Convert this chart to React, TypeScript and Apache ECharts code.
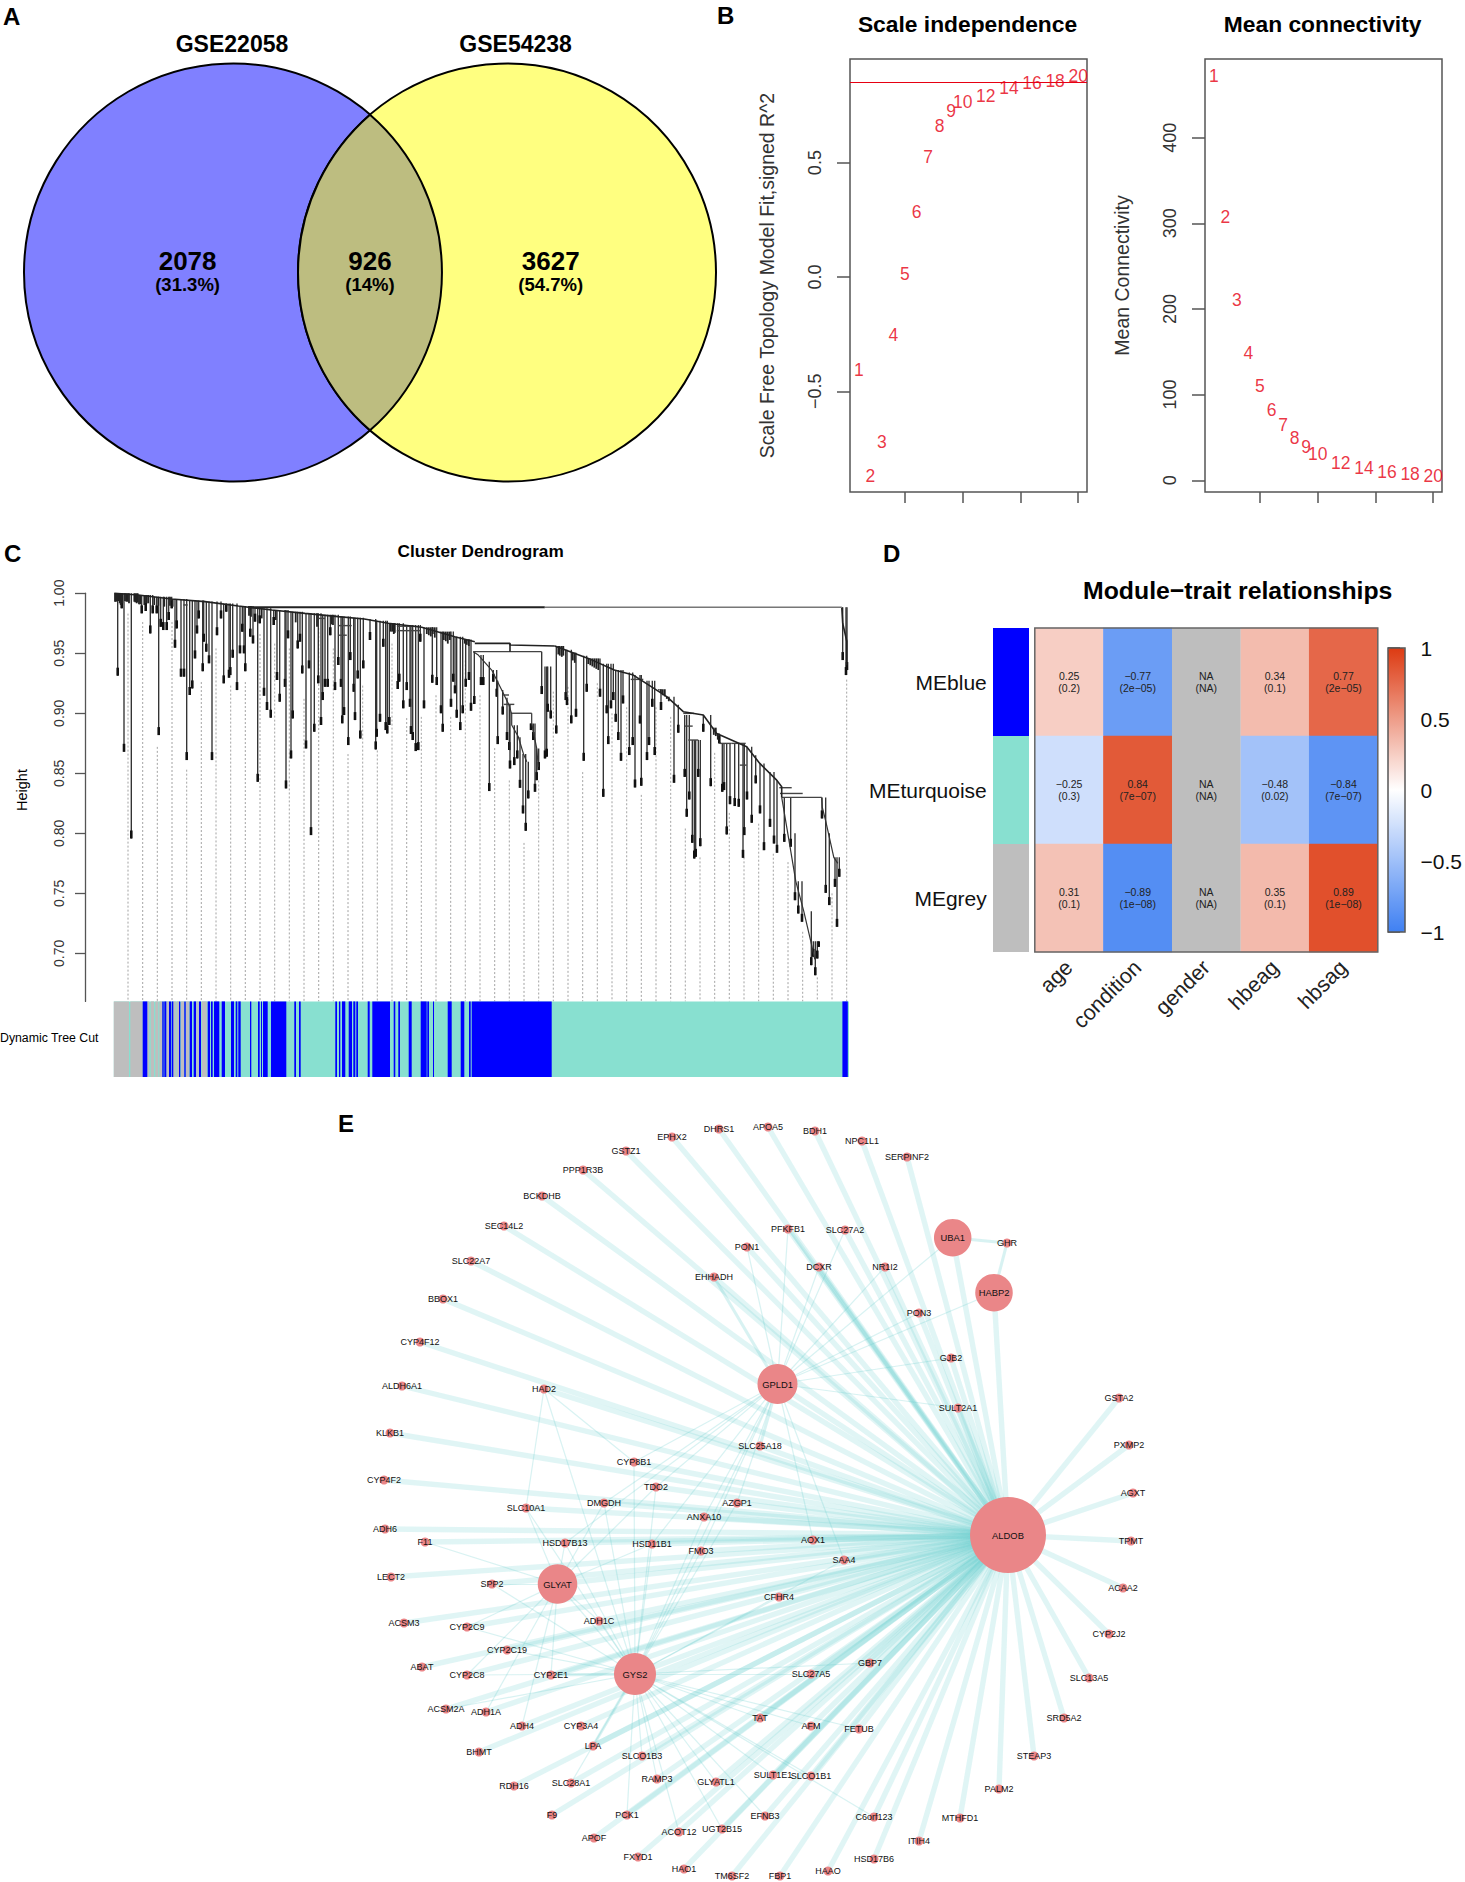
import React, { useEffect, useRef } from "react";
import * as echarts from "echarts";

const FONT = '"Liberation Sans", Arial, sans-serif';

/* ---------- A: Venn ---------- */
const vennSets = ["GSE22058", "GSE54238"];
const vennCounts = ["2078", "926", "3627"];
const vennPercents = ["(31.3%)", "(14%)", "(54.7%)"];

/* ---------- B: soft threshold ---------- */
const powers = [1, 2, 3, 4, 5, 6, 7, 8, 9, 10, 12, 14, 16, 18, 20];
const scaleFitR2 = [-0.407, -0.87, -0.721, -0.254, 0.013, 0.284, 0.525, 0.66, 0.726, 0.764, 0.79, 0.826, 0.848, 0.855, 0.88];
const meanConnectivity = [472, 307, 211, 149, 110, 82, 64, 49, 39, 31, 20.5, 14, 10, 7.5, 5.4];
const fitCutoff = 0.85;

/* ---------- C: dendrogram (x = leaf position, h = height) ---------- */
const dendroLeftChain = [[0.5, 0.9999], [24.5, 0.9985], [57.9, 0.9952], [91.2, 0.993], [124.5, 0.9893], [157.9, 0.986], [191.2, 0.9832], [224.5, 0.9805], [250.5, 0.9785], [274.5, 0.975], [307.9, 0.9716], [341, 0.9638], [361, 0.9596]];
const dendroMidChain = [[361, 0.9582], [396.2, 0.9582], [396.2, 0.9568], [441, 0.956]];
const dendroRightChain = [[441, 0.956], [474.5, 0.9457], [500.5, 0.936], [519.5, 0.9318], [552.9, 0.9138], [569.5, 0.9013], [589.5, 0.8985], [602.9, 0.8832], [632.9, 0.8721], [646, 0.8582], [662.9, 0.8443], [667.9, 0.8388], [667.9, 0.8299]];
const dendroSubChain = [[359.5, 0.9513], [364.5, 0.9485], [377.9, 0.936], [387.9, 0.9193], [395.2, 0.9068], [397.9, 0.8993], [397.9, 0.8902], [404.5, 0.8804], [409.5, 0.8666], [412.9, 0.8596]];
const dendroSubRight = [[417.9, 0.9], [417.9, 0.8915], [422.9, 0.8707], [424.5, 0.8554]];
const dendroTailChain = [[667.9, 0.8299], [675, 0.795], [682, 0.76], [690, 0.735], [697, 0.71], [701, 0.695]];
const dendroTailRight = [[707.9, 0.8299], [708.5, 0.8215], [712, 0.81], [716, 0.795], [720, 0.78], [724, 0.775]];
const dendroCapChain = [[728, 0.9882], [728.9, 0.975], [733, 0.96], [733, 0.94]];
const dendroStem = [[396.2, 0.9582], [396.2, 0.9513]];
const dendroRootDark = [[134.5, 0.9882], [431, 0.9882]];
const dendroRootLight = [[431, 0.9882], [728, 0.9882]];
const dendroForks = [
  [389.5, 395.2, 0.9152], [390, 400.5, 0.9074], [397.2, 417.9, 0.9], [359.5, 427.9, 0.9513], [283, 301, 0.9725], [283, 307, 0.9688],
  [516.9, 529.5, 0.9282], [569.5, 580.2, 0.8999], [574.5, 584.5, 0.8777], [606.2, 617.9, 0.8749], [617.9, 631.9, 0.8749], [626, 632.9, 0.8568],
  [666.2, 688.9, 0.8332], [665.5, 677.9, 0.838], [667.9, 707.9, 0.8299], [571.2, 578.9, 0.8893],
  [224.5, 237.9, 0.973], [224.5, 233, 0.965], [69.5, 73.9, 0.9902], [204.5, 211.2, 0.979],
];
const dendroHang = [
  [0, 0.9999], [24, 0.9985], [40, 0.997], [58, 0.9952], [75, 0.994], [91, 0.993], [108, 0.9915], [125, 0.9893], [141, 0.9875], [158, 0.986], [175, 0.9845], [191, 0.9832], [208, 0.982], [225, 0.9805], [238, 0.9795], [250, 0.9785], [262, 0.977], [274, 0.975], [291, 0.9735], [308, 0.9716], [325, 0.968], [341, 0.9638], [351, 0.9615],
  [358, 0.9513], [364.5, 0.9485], [371, 0.943], [378, 0.936], [383, 0.927], [388, 0.9193], [392, 0.913], [395.2, 0.9068], [398, 0.89], [404, 0.88], [409, 0.866], [413, 0.8596], [417, 0.8915], [422, 0.8707], [425, 0.8554], [427, 0.9513], [430, 0.939],
  [440, 0.956], [450, 0.953], [458, 0.9505], [466, 0.948], [474.5, 0.9457], [487, 0.9412], [500, 0.936], [510, 0.934], [519.5, 0.9318], [530, 0.927], [542, 0.92], [553, 0.9138], [562, 0.907], [569.5, 0.8985], [578, 0.8777], [589, 0.8985], [597, 0.888], [603, 0.8832], [606, 0.875], [632, 0.8721], [639, 0.865], [646, 0.8582], [654, 0.851], [663, 0.8443], [668, 0.8299], [677, 0.8], [684, 0.76], [692, 0.735], [698, 0.71], [706, 0.8299], [712, 0.8], [720, 0.78], [727, 0.9882],
];
const dendroLeafX = [3.9, 7.9, 10.2, 17.5, 27.9, 31.9, 36.5, 38.9, 42.9, 44.9, 46.9, 49.5, 52.9, 54.9, 57.9, 61.2, 62.9, 67.2, 70.2, 72.9, 75.9, 78.5, 81.2, 83.2, 84.9, 88.9, 89.9, 92.5, 95.2, 98.2, 103.2, 107.2, 109.9, 112.5, 115.2, 116.5, 118.9, 123.2, 126.2, 128.5, 130.2, 131.5, 136.5, 139.2, 141.2, 143.9, 145.9, 150.2, 153.2, 156.9, 159.9, 163.2, 165.9, 171.2, 172.2, 174.2, 177.2, 178.9, 183.9, 186.2, 188.5, 192.2, 195.2, 197.2, 200.5, 204.5, 207.2, 208.9, 211.2, 213.9, 216.5, 221.2, 224.5, 227.2, 228.5, 230.2, 234.5, 236.5, 239.9, 241.2, 243.9, 246.5, 249.5,
  256.2, 261.9, 262.9, 266.2, 269.5, 271.9, 273.5, 275.5, 283.9, 285.5, 289.5, 292.9, 296.2, 297.2, 298.9, 301.9, 304.5, 306.5, 310.2, 318.5, 322.9, 327.2, 328.9, 337.2, 339.5, 341.2, 342.9, 346.5, 348.9, 351.9, 355.2, 357.2, 360.5, 367.2, 369.5, 375.5, 379.5, 382.9, 383.9, 388.9, 393.2, 395.5, 396.2, 400.5, 403.5, 406.2, 409.2, 411.9, 414.5, 417.2, 419.5, 421.2, 422.9, 424.9, 427.9, 431.2, 432.9, 433.9, 436.9, 442.5, 451.9, 453.2, 457.5, 462.2, 469.9, 472.9, 486.2, 489.5, 492.9, 494.5, 497.2, 499.5,
  501.9, 504.5, 507.2, 509.2, 515.5, 518.9, 521.2, 526.2, 527.5, 533.2, 535.2, 538.5, 540.9, 547.2, 560.2, 564.5, 570.9, 572.9, 575.5, 578.5, 580.5, 581.9, 584.5, 586.5, 589.5, 596.9, 605.5, 608.5, 610.2, 612.9, 616.2, 620.9, 624.9, 629.2, 630.5, 633.2, 637.9, 641.9, 646.2, 650.2, 656.2, 660.2, 663.2, 670.5, 676.9, 681.2, 684.5, 688.2, 697.5, 699.5, 701.5, 703.5, 704.9, 708.2, 711.9, 715.5, 721.2, 723.2, 725.5, 728.9, 732.2, 733.2];
const dendroLeafBottom = [0.9313, 0.9874, 0.8679, 0.7957, 0.9832, 0.9852, 0.9665, 0.9832, 0.9832, 0.8818, 0.972, 0.9693, 0.9693, 0.9777, 0.9874, 0.9546, 0.9707, 0.9305, 0.9305, 0.861, 0.9152, 0.9207, 0.9457, 0.9665, 0.979, 0.935, 0.9596, 0.9513, 0.9416, 0.861, 0.965, 0.979, 0.9249, 0.9846, 0.9296, 0.9318, 0.9463, 0.9193, 0.9499, 0.9679, 0.9499, 0.935, 0.9638, 0.9582, 0.9763, 0.8429, 0.9749, 0.9146, 0.9027, 0.8963, 0.9735, 0.9277, 0.9096, 0.922, 0.8374, 0.9624, 0.8624, 0.8957, 0.954, 0.9596, 0.9332, 0.8707, 0.9374, 0.7985, 0.8846, 0.9249, 0.8902, 0.911, 0.922, 0.922, 0.965, 0.9193, 0.9402, 0.922, 0.8916, 0.8985, 0.8735, 0.9443, 0.9179, 0.8943, 0.929, 0.879, 0.9374,
  0.961, 0.8699, 0.8804, 0.8929, 0.9554, 0.886, 0.8832, 0.8902, 0.9202, 0.9263, 0.9041, 0.9193, 0.9054, 0.8827, 0.8777, 0.8685, 0.8693, 0.9596, 0.9041, 0.9254, 0.9235, 0.9, 0.8846, 0.9054, 0.9263, 0.9166, 0.8963, 0.886, 0.9, 0.9221, 0.9277, 0.9021, 0.9077, 0.9235, 0.9235, 0.8352, 0.9263, 0.9138, 0.8743, 0.899, 0.8777, 0.8693, 0.854, 0.8568, 0.8624, 0.8379, 0.8166, 0.8021, 0.8291, 0.886, 0.8777, 0.8346, 0.8443, 0.8527, 0.916, 0.8624, 0.8638, 0.9013, 0.8957, 0.8832, 0.911, 0.9068, 0.8916, 0.8971, 0.8604, 0.9179, 0.9138, 0.8304, 0.9, 0.8743, 0.9041, 0.911,
  0.8929, 0.8777, 0.8604, 0.9082, 0.8652, 0.8735, 0.8382, 0.8915, 0.8396, 0.861, 0.8735, 0.9054, 0.8652, 0.9027, 0.8421, 0.8838, 0.847, 0.8138, 0.8282, 0.7921, 0.779, 0.7804, 0.847, 0.7893, 0.8846, 0.8393, 0.8749, 0.8346, 0.836, 0.7991, 0.8243, 0.8227, 0.8221, 0.7796, 0.7985, 0.8282, 0.8088, 0.8416, 0.8166, 0.786, 0.8054, 0.7915, 0.7838, 0.7929, 0.7888, 0.7443, 0.7332, 0.7263, 0.6902, 0.6971, 0.6818, 0.6957, 0.7054, 0.8124, 0.7504, 0.7402, 0.7554, 0.7221, 0.7638, 0.9443, 0.9318, 0.936];
const dendroTipX = [1.2, 2.2, 3.2, 4.5, 5.9, 6.9, 8.5, 11.2, 12.5, 13.9, 15.2, 20.5, 21.5, 22.9, 23.9, 25.2, 26.5, 30.5, 32.9, 34.5, 40.5, 44.5, 50.5, 56.2, 58.9, 135.2, 137.2, 147.9, 161.9, 181.9, 203.2, 217.9, 219.2, 277, 278.5, 280, 281, 313, 315, 317, 319, 321, 330, 332, 334, 336, 351, 353, 355, 444.5, 446, 448, 449.5, 459, 461, 474.5, 476.5, 478.5, 480.5, 482.5, 484.5, 543, 545, 547, 549, 551, 553, 555, 600, 602, 604, 606];
const dendroTipBottom = [0.9929, 0.9929, 0.9935, 0.9935, 0.9916, 0.9902, 0.9916, 0.9935, 0.9929, 0.9929, 0.9916, 0.9929, 0.9924, 0.9916, 0.9924, 0.9907, 0.9907, 0.9902, 0.9916, 0.9916, 0.9902, 0.9896, 0.9888, 0.9896, 0.9888, 0.9813, 0.9804, 0.979, 0.9777, 0.9757, 0.972, 0.974, 0.9735, 0.968, 0.968, 0.966, 0.967, 0.966, 0.965, 0.964, 0.966, 0.963, 0.961, 0.96, 0.958, 0.961, 0.958, 0.957, 0.956, 0.949, 0.948, 0.947, 0.948, 0.944, 0.942, 0.941, 0.94, 0.939, 0.938, 0.937, 0.936, 0.92, 0.919, 0.917, 0.915, 0.914, 0.912, 0.91, 0.882, 0.881, 0.878, 0.876];
const guideX = [14.2, 28.9, 43.5, 58.2, 72.9, 87.5, 102.2, 116.9, 131.5, 146.2, 160.9, 175.5, 190.2, 204.9, 219.5, 234.2, 248.9, 263.5, 278.2, 292.9, 307.5, 322.2, 336.9, 351.5, 366.2, 380.9, 395.5, 410.2, 424.9, 439.5, 454.2, 468.9, 483.5, 498.2, 512.9, 527.5, 542.2, 556.9, 571.5, 586.2, 600.9, 615.5, 630.2, 644.9, 659.5, 674.2, 688.9, 703.5, 718.2, 732.9];
const guideTop = [0.983, 0.976, 0.872, 0.976, 0.853, 0.926, 0.954, 0.923, 0.926, 0.966, 0.958, 0.954, 0.912, 0.971, 0.954, 0.866, 0.923, 0.869, 0.958, 0.896, 0.897, 0.915, 0.897, 0.944, 0.915, 0.871, 0.844, 0.792, 0.844, 0.918, 0.922, 0.851, 0.925, 0.9, 0.905, 0.832, 0.905, 0.897, 0.804, 0.78, 0.867, 0.817, 0.78, 0.808, 0.783, 0.776, 0.718, 0.68, 0.75, 0.928];
const dendroTicks = [0.7, 0.75, 0.8, 0.85, 0.9, 0.95, 1.0];
const treeSpan = [0, 735.2];
const turquoiseRuns = [[0, 735.2]];
const greyRuns = [[0, 15.2], [16.5, 28.9], [33.5, 35.5], [36.9, 40.2], [41.5, 44.5], [45.5, 48.5], [52.5, 55.2], [59.5, 62], [62.7, 65.2], [67.2, 70.2], [72.2, 75.4], [82.5, 85], [88, 93]];
const blueRuns = [[28.9, 33.5], [48.5, 49.9], [50.5, 52.5], [55.2, 57.2], [57.9, 59.5], [65.2, 66.5], [70.5, 71.9], [75.9, 78.2], [79.9, 82.2], [85.2, 87.2], [93.9, 96.2], [97.2, 98.9], [100.2, 105.5], [107.9, 111.2], [117.2, 120.2], [121.9, 123.5], [124.5, 126.9], [136.2, 137.5], [144.2, 145.9], [147.2, 148.2], [149.2, 153.9], [157.2, 172.5], [180.5, 182.2], [185.2, 186.9], [221.5, 223.2], [225.2, 226.5], [228.2, 231.5], [234.9, 238.2], [239.5, 241.5], [242.5, 244.2], [253.9, 255.9], [258.5, 276.2], [279.9, 281.5], [284.5, 286.2], [294.9, 297.9], [306.9, 312.9], [313.5, 315.2], [319.2, 320.2], [333.9, 337.9], [346.9, 350.5], [355.2, 356.9], [357.9, 437.9], [728.6, 734]];

/* ---------- D: module-trait heatmap ---------- */
const traits = ["age", "condition", "gender", "hbeag", "hbsag"];
const modules = ["MEblue", "MEturquoise", "MEgrey"];
const moduleColors = ["#0000ff", "#88e0d0", "#bebebe"];
const corrBlue = [0.25, -0.77, null, 0.34, 0.77];
const corrTurquoise = [-0.25, 0.84, null, -0.48, -0.84];
const corrGrey = [0.31, -0.89, null, 0.35, 0.89];
const pBlue = ["0.2", "2e\u221205", "NA", "0.1", "2e\u221205"];
const pTurquoise = ["0.3", "7e\u221207", "NA", "0.02", "7e\u221207"];
const pGrey = ["0.1", "1e\u221208", "NA", "0.1", "1e\u221208"];

/* ---------- E: network ---------- */
const geneNames = ["EPHX2", "DHRS1", "APOA5", "BDH1", "NPC1L1", "SERPINF2", "GSTZ1", "PPP1R3B", "BCKDHB", "SEC14L2", "SLC22A7", "BBOX1", "CYP4F12", "ALDH6A1", "KLKB1", "CYP4F2", "PFKFB1", "SLC27A2", "PON1", "DCXR", "NR1I2", "EHHADH", "HAD2", "SLC25A18", "CYP8B1", "TDO2", "DMGDH", "AZGP1", "SLC10A1", "ANXA10", "ADH6", "F11", "HSD17B13", "HSD11B1", "FMO3", "AOX1", "SAA4", "LECT2", "SPP2", "CFHR4", "ACSM3", "CYP2C9", "ADH1C", "CYP2C19", "ABAT", "CYP2C8", "CYP2E1", "GBP7", "SLC27A5", "ACSM2A", "ADH1A", "ADH4", "CYP3A4", "TAT", "AFM", "FETUB", "BHMT", "LPA", "SLCO1B3", "RDH16", "SLC28A1", "RAMP3", "GLYATL1", "SULT1E1", "SLCO1B1", "F9", "PCK1", "ACOT12", "UGT2B15", "EFNB3", "C6orf123", "APOF", "FXYD1", "HAO1", "TM6SF2", "FBP1", "HAAO", "HSD17B6", "GHR", "PON3", "GJB2", "SULT2A1", "GSTA2", "PXMP2", "AGXT", "TPMT", "ACAA2", "CYP2J2", "SLC13A5", "SRD5A2", "STEAP3", "PALM2", "MTHFD1", "ITIH4"];
const geneX = [672, 719, 768, 815, 862, 907, 626, 583, 542, 504, 471, 443, 420, 402, 390, 384, 788, 845, 747, 819, 885, 714, 544, 760, 634, 656, 604, 737, 526, 704, 385, 425, 565, 652, 701, 813, 844, 391, 492, 779, 404, 467, 599, 507, 422, 467, 551, 870, 811, 446, 486, 522, 581, 760, 811, 859, 479, 593, 642, 514, 571, 657, 716, 773, 811, 552, 627, 679, 722, 765, 874, 594, 638, 684, 732, 780, 828, 874, 1007, 919, 951, 958, 1119, 1129, 1133, 1131, 1123, 1109, 1089, 1064, 1034, 999, 960, 919];
const geneY = [1137, 1129, 1127, 1131, 1141, 1157, 1151, 1170, 1196, 1226, 1261, 1299, 1342, 1386, 1433, 1480, 1229, 1230, 1247, 1267, 1267, 1277, 1389, 1446, 1462, 1487, 1503, 1503, 1508, 1517, 1529, 1542, 1543, 1544, 1551, 1540, 1560, 1577, 1584, 1597, 1623, 1627, 1621, 1650, 1667, 1675, 1675, 1663, 1674, 1709, 1712, 1726, 1726, 1718, 1726, 1729, 1752, 1746, 1756, 1786, 1783, 1779, 1782, 1775, 1776, 1815, 1815, 1832, 1829, 1816, 1817, 1838, 1857, 1869, 1876, 1876, 1871, 1859, 1243, 1313, 1358, 1408, 1398, 1445, 1493, 1541, 1588, 1634, 1678, 1718, 1756, 1789, 1818, 1841];
const hubNames = ["ALDOB", "GPLD1", "GLYAT", "GYS2", "UBA1", "HABP2"];
const hubX = [1008, 777.5, 557.5, 635, 952.7, 994];
const hubY = [1535, 1384, 1584, 1674, 1237.7, 1292.7];
const hubSize = [76, 40, 39.5, 42, 37.5, 37.5];
const gys2Partners = ["SLC10A1", "HSD17B13", "ADH1C", "CYP2C9", "CYP2C19", "CYP2C8", "SPP2", "ACSM2A", "HSD11B1", "FMO3", "DMGDH", "ANXA10", "AZGP1", "TDO2", "CYP8B1", "SAA4", "CFHR4", "SLC27A5", "GBP7", "TAT", "AFM", "FETUB", "SLCO1B3", "SLC28A1", "PCK1", "RAMP3", "ACOT12", "GLYATL1", "UGT2B15", "EFNB3", "SULT1E1", "SLCO1B1", "C6orf123", "HAD2", "GPLD1"];
const glyatPartners = ["F11", "SPP2", "HSD17B13", "SLC10A1", "DMGDH", "ADH1A", "ADH4", "CYP2C8", "CYP2C9", "CYP2E1", "ADH1C", "HSD11B1", "TDO2", "GYS2"];
const gpld1Partners = ["PON1", "PFKFB1", "DCXR", "SLC27A2", "NR1I2", "CYP8B1", "TDO2", "AZGP1", "ANXA10", "DMGDH", "HSD11B1", "FMO3", "AOX1", "SAA4", "UBA1", "HABP2", "PON3", "GJB2", "SULT2A1", "HSD17B13"];
const strongPartners = [["GPLD1", "EHHADH"], ["GPLD1", "SLC25A18"], ["UBA1", "GHR"], ["HABP2", "GHR"], ["GYS2", "CYP2E1"], ["GYS2", "LPA"]];
const accentPartners = [["ALDOB", "DCXR"], ["ALDOB", "PFKFB1"]];
const extraPartners = [["HAD2", "SLC10A1"], ["HAD2", "CYP8B1"]];

echarts.graphic.registerShape(
  "vennLens",
  echarts.graphic.extendPath("M370 114.7 A209 209 0 0 1 370 430.3 A209 209 0 0 1 370 114.7 Z", {})
);

const minus = (s: string) => s.replace(/-/g, "\u2212");

const label = (text: string, x: number, y: number, fontSize: number, fontWeight = "normal", align = "center", extra: any = {}) => ({
  type: "text",
  x,
  y,
  z: 60,
  silent: true,
  ...extra,
  style: {
    text,
    fontSize,
    fontWeight,
    fontFamily: FONT,
    fill: "#000",
    align,
    textAlign: align,
    verticalAlign: "middle",
    textVerticalAlign: "middle",
  },
});

function hangAt(x: number) {
  let h = dendroHang[0][1];
  for (const [start, value] of dendroHang) {
    if (start <= x) h = value;
  }
  return h;
}

function buildOption() {
  /* ----- graphic ----- */
  const graphics: any[] = [
    { type: "circle", shape: { cx: 233, cy: 272.5, r: 209 }, style: { fill: "#8080ff", stroke: "#000", lineWidth: 2 } },
    { type: "circle", shape: { cx: 507, cy: 272.5, r: 209 }, style: { fill: "#ffff80", stroke: "#000", lineWidth: 2 } },
    { type: "vennLens", x: 0, y: 0, scaleX: 1, scaleY: 1, style: { fill: "#bdbd80", stroke: "#000", lineWidth: 2 } },
    label(vennSets[0], 232, 44, 23, "bold"),
    label(vennSets[1], 515.6, 44, 23, "bold"),
    label(vennCounts[0], 187.6, 260.5, 26, "bold"),
    label(vennCounts[1], 370, 260.5, 26, "bold"),
    label(vennCounts[2], 550.7, 260.5, 26, "bold"),
    label(vennPercents[0], 187.6, 284, 18.5, "bold"),
    label(vennPercents[1], 370, 284, 18.5, "bold"),
    label(vennPercents[2], 550.7, 284, 18.5, "bold"),
    label("A", 3, 16, 24, "bold", "left"),
    label("B", 717, 15, 24, "bold", "left"),
    label("C", 4, 553, 24, "bold", "left"),
    label("D", 883, 553, 24, "bold", "left"),
    label("E", 338, 1123, 24, "bold", "left"),
    label("Scale independence", 967.5, 24, 22.8, "bold"),
    label("Mean connectivity", 1322.6, 24, 22.8, "bold"),
    label("Cluster Dendrogram", 480.6, 551.4, 17.2, "bold"),
    label("Module\u2212trait relationships", 1237.7, 590, 24.8, "bold"),
    label("Dynamic Tree Cut", 0, 1038, 12.3, "normal", "left"),
    label("Height", 22, 790, 14.5, "normal", "center", { rotation: Math.PI / 2 }),
    { type: "rect", z: 70, silent: true, shape: { x: 1034.8, y: 628, width: 343, height: 324 }, style: { fill: "transparent", stroke: "#666", lineWidth: 1.5 } },
    { type: "rect", z: 70, silent: true, shape: { x: 1388, y: 648, width: 17, height: 284 }, style: { fill: "transparent", stroke: "#555", lineWidth: 1.5 } },
  ];

  /* ----- grids ----- */
  const grid: any[] = [
    { left: 850, top: 59, width: 237, height: 433, show: true, borderColor: "#555", borderWidth: 1.5 },
    { left: 1205, top: 59, width: 237, height: 433, show: true, borderColor: "#555", borderWidth: 1.5 },
    { left: 113.8, top: 593.2, width: 735.2, height: 408.2 },
    { left: 113.8, top: 1001.4, width: 735.2, height: 75.6 },
    { left: 1034.8, top: 628, width: 343, height: 324 },
    { left: 993, top: 628, width: 36, height: 324 },
    { left: 1388, top: 648, width: 17, height: 284 },
    { left: 0, top: 0, width: 1465, height: 1882 },
  ];

  const hidden = (gridIndex: number, min: number, max: number) => ({ type: "value", gridIndex, min, max, show: false });
  const bX = (gridIndex: number) => ({
    type: "value",
    gridIndex,
    min: 0.24,
    max: 20.76,
    axisLine: { show: false, onZero: false },
    splitLine: { show: false },
    axisLabel: { show: false, customValues: [5, 10, 15, 20] },
    axisTick: { show: true, length: 11, customValues: [5, 10, 15, 20], lineStyle: { color: "#555", width: 1.5 } },
  });
  const bY = (gridIndex: number, min: number, max: number, ticks: number[], digits: number, name: string) => ({
    type: "value",
    gridIndex,
    min,
    max,
    name,
    nameLocation: "middle",
    nameRotate: 90,
    nameGap: 73,
    nameTextStyle: { fontSize: 19.5, color: "#333", fontFamily: FONT },
    axisLine: { show: false, onZero: false },
    splitLine: { show: false },
    axisTick: { show: true, length: 13, customValues: ticks, lineStyle: { color: "#555", width: 1.5 } },
    axisLabel: {
      show: true,
      rotate: 90,
      margin: 26,
      fontSize: 18,
      color: "#333",
      fontFamily: FONT,
      customValues: ticks,
      formatter: (v: number) => minus(v.toFixed(digits)),
    },
  });

  const xAxis: any[] = [
    bX(0),
    bX(1),
    hidden(2, treeSpan[0], treeSpan[1]),
    hidden(3, treeSpan[0], treeSpan[1]),
    {
      type: "category",
      gridIndex: 4,
      data: traits,
      axisLine: { show: false },
      axisTick: { show: false },
      axisLabel: { rotate: 45, margin: 12, fontSize: 21.5, color: "#222", fontFamily: FONT, interval: 0 },
    },
    { type: "category", gridIndex: 5, data: ["module"], show: false },
    hidden(6, 0, 1),
    hidden(7, 0, 1465),
  ];
  const yAxis: any[] = [
    bY(0, -0.94, 0.953, [-0.5, 0, 0.5], 1, "Scale Free Topology Model Fit,signed R^2"),
    bY(1, -13.7, 491.8, [0, 100, 200, 300, 400], 0, "Mean Connectivity"),
    {
      type: "value",
      gridIndex: 2,
      min: 0.66,
      max: 1,
      offset: 28.8,
      splitLine: { show: false },
      axisLine: { show: true, onZero: false, lineStyle: { color: "#555", width: 1.3 } },
      axisTick: { show: true, length: 10, customValues: dendroTicks, lineStyle: { color: "#555", width: 1.3 } },
      axisLabel: { show: true, rotate: 90, margin: 19, fontSize: 14, color: "#333", fontFamily: FONT, customValues: dendroTicks, formatter: (v: number) => v.toFixed(2) },
    },
    hidden(3, 0, 1),
    {
      type: "category",
      gridIndex: 4,
      inverse: true,
      data: modules,
      axisLine: { show: false },
      axisTick: { show: false },
      axisLabel: { margin: 48, fontSize: 21, color: "#111", fontFamily: FONT },
    },
    { type: "category", gridIndex: 5, inverse: true, data: modules, show: false },
    {
      type: "value",
      gridIndex: 6,
      position: "right",
      min: -1,
      max: 1,
      interval: 0.5,
      splitLine: { show: false },
      axisLine: { show: false },
      axisTick: { show: true, length: 12, lineStyle: { color: "#555", width: 1.5 } },
      axisLabel: { margin: 16, fontSize: 21, color: "#111", fontFamily: FONT, formatter: (v: number) => minus(String(v)) },
    },
    { ...hidden(7, 0, 1882), inverse: true },
  ];

  /* ----- series ----- */
  const series: any[] = [];

  // network (panel E) first
  const allNames = [...hubNames, ...geneNames];
  const nodes = [
    ...hubNames.map((name, i) => ({ name, value: [hubX[i], hubY[i]], symbolSize: hubSize[i], label: { fontSize: 9.4 } })),
    ...geneNames.map((name, i) => ({ name, value: [geneX[i], geneY[i]], symbolSize: 9, label: { fontSize: 9 } })),
  ];
  const thick = { width: 5.4, color: "rgba(110,208,208,0.42)" };
  const medium = { width: 3, color: "rgba(100,205,205,0.5)" };
  const accent = { width: 2, color: "rgba(90,200,200,0.3)" };
  const thin = { width: 1.2, color: "rgba(100,205,205,0.5)" };
  const links: any[] = [];
  allNames.forEach((n) => {
    if (n !== "ALDOB" && n !== "GHR") links.push({ source: n, target: "ALDOB", lineStyle: thick });
  });
  gys2Partners.forEach((n) => links.push({ source: "GYS2", target: n, lineStyle: thin }));
  glyatPartners.forEach((n) => links.push({ source: "GLYAT", target: n, lineStyle: thin }));
  gpld1Partners.forEach((n) => links.push({ source: "GPLD1", target: n, lineStyle: thin }));
  strongPartners.forEach(([a, b]) => links.push({ source: a, target: b, lineStyle: medium }));
  accentPartners.forEach(([a, b]) => links.push({ source: a, target: b, lineStyle: accent }));
  extraPartners.forEach(([a, b]) => links.push({ source: a, target: b, lineStyle: thin }));
  series.push({
    type: "graph",
    coordinateSystem: "cartesian2d",
    xAxisIndex: 7,
    yAxisIndex: 7,
    layout: "none",
    roam: false,
    silent: true,
    symbol: "circle",
    itemStyle: { color: "#ea8688", opacity: 1 },
    lineStyle: { curveness: 0 },
    label: { show: true, position: "inside", formatter: "{b}", color: "#111", fontFamily: FONT },
    data: nodes,
    links,
  });

  // Panel B
  const textScatter = (idx: number, ys: number[]) => ({
    type: "scatter",
    xAxisIndex: idx,
    yAxisIndex: idx,
    silent: true,
    symbolSize: 1,
    itemStyle: { color: "rgba(0,0,0,0)" },
    label: { show: true, position: "inside", formatter: (p: any) => String(p.value[0]), color: "#e60012", fontSize: 17.5, fontFamily: FONT },
    data: powers.map((p, i) => [p, ys[i]]),
  } as any);
  const s1 = textScatter(0, scaleFitR2);
  s1.markLine = { silent: true, symbol: "none", label: { show: false }, lineStyle: { color: "#e60012", width: 1, type: "solid" }, data: [{ yAxis: fitCutoff }] };
  series.push(s1, textScatter(1, meanConnectivity));

  // Panel C guides
  series.push({
    type: "custom",
    xAxisIndex: 2,
    yAxisIndex: 2,
    silent: true,
    encode: { x: 0, y: 1 },
    data: guideX.map((x, i) => [x, guideTop[i]]),
    renderItem: (_: any, api: any) => {
      const a = api.coord([api.value(0), api.value(1)]);
      const b = api.coord([api.value(0), 0.66]);
      return { type: "line", shape: { x1: a[0], y1: a[1], x2: b[0], y2: b[1] }, style: { stroke: "#8c8c8c", lineWidth: 0.8, lineDash: [2, 2] } };
    },
  });
  // leaves
  series.push({
    type: "custom",
    xAxisIndex: 2,
    yAxisIndex: 2,
    silent: true,
    encode: { x: 0, y: 1 },
    data: dendroLeafX.map((x, i) => [x, dendroLeafBottom[i], hangAt(x)]),
    renderItem: (_: any, api: any) => {
      const x = api.value(0);
      const a = api.coord([x, api.value(2)]);
      const b = api.coord([x, api.value(1)]);
      const len = Math.min(8, Math.max(0, b[1] - a[1]));
      return {
        type: "group",
        children: [
          { type: "line", shape: { x1: a[0], y1: a[1], x2: b[0], y2: b[1] }, style: { stroke: "#2a2a2a", lineWidth: 1.3 } },
          { type: "line", shape: { x1: b[0], y1: b[1] - len, x2: b[0], y2: b[1] }, style: { stroke: "#111", lineWidth: 2.6 } },
        ],
      };
    },
  });
  // short tips near the backbone
  series.push({
    type: "custom",
    xAxisIndex: 2,
    yAxisIndex: 2,
    silent: true,
    encode: { x: 0, y: 1 },
    data: dendroTipX.map((x, i) => [x, dendroTipBottom[i], hangAt(x)]),
    renderItem: (_: any, api: any) => {
      const x = api.value(0);
      const a = api.coord([x, api.value(2)]);
      const b = api.coord([x, api.value(1)]);
      return { type: "line", shape: { x1: a[0], y1: a[1], x2: b[0], y2: b[1] }, style: { stroke: "#222", lineWidth: 1.8 } };
    },
  });
  // fork bars
  series.push({
    type: "custom",
    xAxisIndex: 2,
    yAxisIndex: 2,
    silent: true,
    encode: { x: 0, y: 2 },
    data: dendroForks,
    renderItem: (_: any, api: any) => {
      const a = api.coord([api.value(0), api.value(2)]);
      const b = api.coord([api.value(1), api.value(2)]);
      return { type: "line", shape: { x1: a[0], y1: a[1], x2: b[0], y2: b[1] }, style: { stroke: "#444", lineWidth: 1.4 } };
    },
  });
  // chains
  [dendroLeftChain, dendroMidChain, dendroRightChain, dendroStem, dendroCapChain].forEach((pts) => {
    series.push({ type: "line", xAxisIndex: 2, yAxisIndex: 2, silent: true, symbol: "none", clip: false, lineStyle: { color: "#222", width: 1.6 }, data: pts });
  });
  [dendroSubChain, dendroSubRight, dendroTailChain, dendroTailRight].forEach((pts) => {
    series.push({ type: "line", xAxisIndex: 2, yAxisIndex: 2, silent: true, symbol: "none", clip: false, lineStyle: { color: "#333", width: 1.2 }, data: pts });
  });
  series.push({ type: "line", xAxisIndex: 2, yAxisIndex: 2, silent: true, symbol: "none", clip: false, lineStyle: { color: "#222", width: 2 }, data: dendroRootDark });
  series.push({ type: "line", xAxisIndex: 2, yAxisIndex: 2, silent: true, symbol: "none", clip: false, lineStyle: { color: "#777", width: 1.5 }, data: dendroRootLight });

  // module colour bar
  const runSeries = (runs: number[][], color: string) => ({
    type: "custom",
    xAxisIndex: 3,
    yAxisIndex: 3,
    silent: true,
    encode: { x: [0, 1] },
    data: runs,
    renderItem: (_: any, api: any) => {
      const a = api.coord([api.value(0), 1]);
      const b = api.coord([api.value(1), 0]);
      return { type: "rect", shape: { x: a[0], y: a[1], width: b[0] - a[0], height: b[1] - a[1] }, style: { fill: color } };
    },
  });
  series.push(runSeries(turquoiseRuns, "#88e0d0"), runSeries(greyRuns, "#bebebe"), runSeries(blueRuns, "#0000ff"));

  // Panel D heatmap
  const corrRows = [corrBlue, corrTurquoise, corrGrey];
  const pRows = [pBlue, pTurquoise, pGrey];
  const heatData: any[] = [];
  const naData: any[] = [];
  corrRows.forEach((row, y) =>
    row.forEach((v, x) => {
      if (v === null) naData.push([x, y]);
      else heatData.push([x, y, v]);
    })
  );
  const heatIndex = series.length;
  series.push({
    type: "heatmap",
    xAxisIndex: 4,
    yAxisIndex: 4,
    silent: true,
    data: heatData,
    label: {
      show: true,
      fontSize: 10.5,
      lineHeight: 12.5,
      color: "#222",
      fontFamily: FONT,
      formatter: (p: any) => `${minus(p.value[2].toFixed(2))}\n(${pRows[p.value[1]][p.value[0]]})`,
    },
  });
  series.push({
    type: "custom",
    xAxisIndex: 4,
    yAxisIndex: 4,
    silent: true,
    encode: { x: 0, y: 1 },
    data: naData,
    renderItem: (_: any, api: any) => {
      const c = api.coord([api.value(0), api.value(1)]);
      const s = api.size([1, 1]);
      return {
        type: "group",
        children: [
          { type: "rect", shape: { x: c[0] - s[0] / 2, y: c[1] - s[1] / 2, width: s[0], height: s[1] }, style: { fill: "#bebebe" } },
          { type: "text", style: { text: "NA\n(NA)", x: c[0], y: c[1], align: "center", verticalAlign: "middle", fontSize: 10.5, lineHeight: 12.5, fontFamily: FONT, fill: "#222" } },
        ],
      };
    },
  });
  series.push({
    type: "custom",
    xAxisIndex: 5,
    yAxisIndex: 5,
    silent: true,
    encode: { x: 0, y: 1 },
    data: modules.map((_, i) => [0, i]),
    renderItem: (params: any, api: any) => {
      const c = api.coord([api.value(0), api.value(1)]);
      const s = api.size([1, 1]);
      return { type: "rect", shape: { x: c[0] - s[0] / 2, y: c[1] - s[1] / 2, width: s[0], height: s[1] }, style: { fill: moduleColors[params.dataIndex] } };
    },
  });

  return {
    animation: false,
    backgroundColor: "#ffffff",
    textStyle: { fontFamily: FONT },
    grid,
    xAxis,
    yAxis,
    visualMap: {
      type: "continuous",
      seriesIndex: heatIndex,
      dimension: 2,
      min: -1,
      max: 1,
      calculable: false,
      hoverLink: false,
      orient: "vertical",
      left: 1388,
      top: 648,
      padding: 0,
      itemWidth: 17,
      itemHeight: 284,
      text: null,
      showLabel: false,
      inRange: { color: ["#3f80f2", "#ffffff", "#dd3a12"] },
    },
    graphic: { elements: graphics },
    series,
  };
}

export default function App() {
  const ref = useRef<HTMLDivElement>(null);
  useEffect(() => {
    const chart = echarts.init(ref.current!, undefined, { renderer: "svg" });
    chart.setOption(buildOption() as any);
    return () => chart.dispose();
  }, []);
  return <div ref={ref} style={{ position: "absolute", left: 0, top: 0, width: 1465, height: 1882 }} />;
}
